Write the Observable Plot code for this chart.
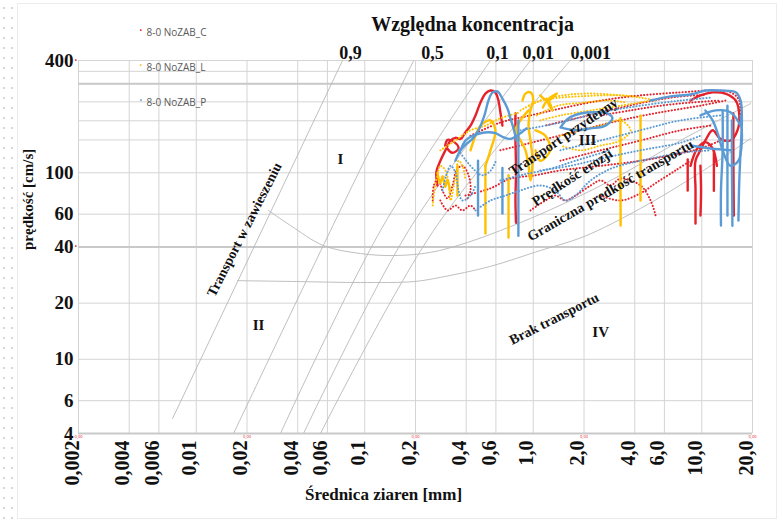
<!DOCTYPE html>
<html>
<head>
<meta charset="utf-8">
<script src="https://cdn.jsdelivr.net/npm/d3@7"></script>
<script src="https://cdn.jsdelivr.net/npm/@observablehq/plot@0.6"></script>
<style>
  html, body { margin: 0; padding: 0; background: #fff; }
  #wrap { position: relative; width: 783px; height: 520px; overflow: hidden; background: #fff; }
  #strip { position: absolute; left: 0; top: 0; width: 16px; height: 520px;
    background-image: radial-gradient(circle, #d8d8d8 1px, transparent 1.6px);
    background-size: 8px 10px; background-position: 0 3px; }
  #frame { position: absolute; left: 17px; top: 3px; width: 758px; height: 514px; border: 1px solid #ececec; }
  #chart { position: absolute; left: 0; top: 0; }
</style>
</head>
<body>
<div id="wrap"><div id="strip"></div><div id="frame"></div><div id="chart"></div></div>
<script>
// ---------- axes ----------
const xTicks = [0.002,0.004,0.006,0.01,0.02,0.04,0.06,0.1,0.2,0.4,0.6,1,2,4,6,10,20];
const xTickLabels = ["0,002","0,004","0,006","0,01","0,02","0,04","0,06","0,1","0,2","0,4","0,6","1,0","2,0","4,0","6,0","10,0","20,0"];
const yTicks = [4,6,10,20,40,60,100,400];
const yTickLabels = ["4","6","10","20","40","60","100","400"];
const yGridExtra = [150,190,240,300,350];
const redTickMarks = [0.002,0.02,0.2,2,20];

// ---------- series ----------
const seriesNames = ["8-0 NoZAB_C","8-0 NoZAB_L","8-0 NoZAB_P"];
const seriesColors = ["#e5222b","#ffc000","#5b9bd5"];

// ---------- relative concentration lines [d mm, v cm/s] ----------
const concLabels = ["0,9","0,5","0,1","0,01","0,001"];
const concLabelX = [0.0822,0.252,0.613,1.07,2.19];
const concLines = [
  [[0.00723,4.81],[0.0738,400]],
  [[0.01664,4],[0.0626,49],[0.195,400]],
  [[0.0316,4],[0.124,49],[0.557,400]],
  [[0.0433,4],[0.182,49],[0.962,400]],
  [[0.0546,4],[0.256,49],[1.66,400]]
];
const erosionCurve = [[0.0268,62.8],[0.0362,52.2],[0.0569,40.7],[0.0944,36.9],[0.148,36.0],[0.245,37.4],[0.407,42.3],[0.638,49],[0.962,56.9],[1.66,71],[3.29,97],[7.48,149],[19.5,235]];
const transportCurve = [[0.01756,26.4],[0.0415,26.1],[0.0944,25.8],[0.195,26.1],[0.281,27.5],[0.557,31.5],[1.10,38.3],[2.0,45.5],[4.33,64.4],[9.82,100.4],[19.5,152.7]];

// ---------- measured trajectories [d mm, v cm/s] ----------
const redSolid = [
  [[0.270,85.5],[0.266,101],[0.281,116],[0.301,132],[0.323,149],[0.345,154],[0.370,152],[0.396,165],[0.424,179],[0.454,203],[0.486,238],[0.520,266],[0.557,276],[0.596,269],[0.621,244],[0.638,211],[0.656,179]],
  [[0.784,208],[0.784,149],[0.79,103],[0.784,71],[0.79,54]],
  [[8.57,244],[9.82,260],[11.6,270],[13.8,266],[15.9,244],[16.7,203],[16.3,169],[14.8,149],[12.9,152],[11.6,169],[10.5,149],[9.82,132],[9.18,116],[9.18,80.4],[9.18,53.5]],
  [[8.25,118],[8.25,80.4]],
  [[15.4,208],[15.4,120],[15.5,59]],
  [[8.57,109],[9.4,135],[10.5,146],[11.6,135],[12.3,109]],
  [[9.82,109],[9.9,80],[9.82,59]],
  [[11.8,132],[11.8,80]],
  [[0.30,140],[0.33,128],[0.36,135],[0.34,146],[0.31,150],[0.30,140]]
];
const redDotted = [
  [[0.253,71],[0.257,85.5],[0.273,93],[0.289,80.4],[0.31,72.8],[0.332,85.5],[0.350,103],[0.380,109],[0.413,97],[0.424,80.4],[0.401,71]],
  [[0.424,158],[0.638,186],[0.962,203],[1.45,221],[2.51,244],[4.33,260],[7.48,270],[11.3,276],[14.8,270],[16.7,244],[16.7,191]],
  [[0.638,132],[1.10,149],[1.91,169],[3.29,191],[5.69,211],[9.82,229],[13.8,244]],
  [[0.396,75.5],[0.557,82.5],[0.732,93],[1.03,97],[1.45,103],[2.51,109],[4.33,116],[6.52,124],[9.82,135],[12.9,149]],
  [[0.962,62.8],[1.18,71],[1.35,75.5],[1.55,71],[1.78,75.5],[2.19,85.5],[2.51,91],[2.87,85.5],[3.29,93],[4.33,85.5],[4.97,71],[5.32,59]],
  [[2.51,203],[3.78,216],[5.69,229],[8.57,238],[12.9,244]],
  [[1.45,116],[2.51,132],[4.33,149],[7.48,169],[11.3,179]],
  [[2.51,75.5],[3.29,71],[4.33,77.7],[5.32,88],[6.99,103],[8.57,116]],
  [[0.281,71],[0.31,62.8],[0.345,66.8],[0.38,62.8],[0.424,66.8],[0.454,62.8]],
  [[1.2,180],[1.8,196],[2.8,216],[4.5,238],[7.0,255],[10.5,262]]
];
const yellowSolid = [
  [[0.52,109],[0.52,71],[0.52,47.3]],
  [[0.713,97],[0.713,66.8],[0.713,45]],
  [[0.863,244],[0.899,266],[0.962,270],[1.0,244],[0.962,216],[0.937,179],[0.962,149],[0.99,116],[0.962,91],[0.937,109],[0.899,132],[0.84,149],[0.784,169],[0.84,191],[0.937,216]],
  [[1.03,169],[1.18,158],[1.26,132],[1.10,116],[1.03,132]],
  [[1.10,260],[1.22,244],[1.38,266],[1.22,244],[1.30,216],[1.22,244],[1.14,224]],
  [[3.29,196],[3.29,103],[3.3,52.2]],
  [[4.33,203],[4.33,116],[4.33,71]],
  [[0.355,109],[0.355,75.5]],
  [[0.424,132],[0.454,158],[0.486,179],[0.557,191],[0.596,169],[0.557,132],[0.52,109]],
  [[0.27,100],[0.28,88],[0.29,96],[0.30,84],[0.31,92],[0.32,80]]
];
const yellowDotted = [
  [[0.253,66.8],[0.259,80.4],[0.270,97],[0.281,109],[0.301,103],[0.316,85.5],[0.323,71],[0.338,85.5],[0.35,103],[0.36,116],[0.38,109],[0.396,91]],
  [[0.84,216],[1.10,244],[1.45,253],[1.91,257],[2.51,260],[3.29,260],[4.33,253],[5.32,244]],
  [[1.45,158],[1.91,169],[2.51,179],[3.29,191],[3.78,169],[3.29,149],[2.51,140],[1.91,132],[1.45,140]],
  [[0.281,132],[0.345,149],[0.424,169],[0.52,179],[0.638,196],[0.84,211]],
  [[1.10,191],[1.45,203],[2.19,216],[3.29,229],[4.97,244]],
  [[0.94,229],[1.2,250],[1.6,262],[2.2,266],[3.0,262],[3.9,257]],
  [[1.05,203],[1.4,229],[2.0,238],[2.8,244],[3.6,238]]
];
const blueSolid = [
  [[0.345,116],[0.370,132],[0.401,143],[0.436,152],[0.473,169],[0.513,203],[0.542,244],[0.572,269],[0.612,273],[0.656,250],[0.703,221],[0.732,196],[0.763,173],[0.795,149]],
  [[0.370,132],[0.396,149],[0.436,158],[0.486,163],[0.542,165],[0.596,163],[0.656,156],[0.732,152],[0.816,160],[0.911,173]],
  [[0.816,191],[0.816,132],[0.816,91],[0.816,62.8],[0.816,46]],
  [[0.656,106],[0.656,60.5]],
  [[1.45,175],[1.62,196],[1.91,208],[2.34,211],[2.75,208],[2.95,196],[2.68,179],[2.19,173],[1.78,169],[1.45,175]],
  [[4.97,244],[6.52,257],[8.57,263],[10.5,276],[12.9,276],[15.9,270],[17.0,244],[17.3,191],[17.0,132],[16.7,91],[16.5,55.5]],
  [[13.3,216],[13.3,132],[13.0,80.4],[13.0,52.2]],
  [[14.2,229],[14.2,120],[14.2,59]],
  [[9.82,203],[12.1,216],[14.8,211],[17.0,179]],
  [[8.57,140],[11.3,135],[14.8,132]],
  [[10.5,216],[11.6,191],[12.5,160],[13.3,132],[14.8,109],[16.5,116],[17.3,149],[17.0,203]],
  [[15.1,191],[15.1,110],[15.2,52]],
  [[0.47,116],[0.47,85],[0.47,59]]
];
const blueDotted = [
  [[0.289,80.4],[0.305,97],[0.323,109],[0.345,100.6],[0.36,80.4],[0.38,71],[0.424,75.5],[0.454,85.5]],
  [[0.454,62.8],[0.557,71],[0.684,75.5],[0.84,80.4],[1.10,85.5],[1.35,80.4],[1.55,71],[1.78,75.5],[2.19,91],[2.87,105],[3.78,113],[4.97,119],[7.48,128],[11.3,132]],
  [[0.84,169],[1.45,186],[2.51,211],[4.33,229],[7.48,244],[11.3,253]],
  [[1.45,132],[2.51,149],[4.33,169],[7.48,191],[12.9,203]],
  [[1.10,103],[1.66,109],[2.51,119],[4.33,132],[7.48,145],[9.82,158]],
  [[0.638,91],[0.84,97],[1.26,105],[1.78,116],[2.87,132]],
  [[0.36,132],[0.40,116],[0.45,103],[0.50,97],[0.56,103],[0.60,116]]
];

// ---------- annotations [text, d, v] ----------
const regionLabels = [["I",0.0718,119],["II",0.0234,15.2],["III",2.1,150],["IV",2.51,13.9]];

// ---------- build ----------
const flat = paths => paths.flatMap((p, i) => p.map(([d, v]) => ({i, d, v})));
const serif = "Liberation Serif, Times New Roman, serif";
const bold = {fontFamily: serif, fontWeight: "bold", fill: "#111"};

function seriesMarks(solid, dotted, color) {
  return [
    Plot.line(flat(dotted), {x: "d", y: "v", z: "i", stroke: color, strokeWidth: 2, strokeDasharray: "0.2 3", strokeLinecap: "round", curve: "catmull-rom", clip: true}),
    Plot.line(flat(solid), {x: "d", y: "v", z: "i", stroke: color, strokeWidth: 2.4, curve: "catmull-rom", clip: true})
  ];
}

const chart = Plot.plot({
  width: 783, height: 520,
  marginLeft: 78, marginRight: 31, marginTop: 60, marginBottom: 87,
  style: {background: "transparent", overflow: "visible"},
  x: {type: "log", domain: [0.002, 20], axis: null},
  y: {type: "log", domain: [4, 400], axis: null},
  marks: [
    Plot.ruleX(xTicks, {stroke: "#d4d4d4", strokeWidth: 1}),
    Plot.ruleY(yTicks.concat(yGridExtra), {stroke: "#d4d4d4", strokeWidth: 1}),
    Plot.ruleY([300, 40, 4], {stroke: "#c9c9c9", strokeWidth: 2}),
    Plot.line(flat(concLines), {x: "d", y: "v", z: "i", stroke: "#b8b8b8", strokeWidth: 0.9, curve: "catmull-rom", clip: true}),
    Plot.line(erosionCurve, {x: d => d[0], y: d => d[1], stroke: "#b8b8b8", strokeWidth: 0.9, curve: "catmull-rom", clip: true}),
    Plot.line(transportCurve, {x: d => d[0], y: d => d[1], stroke: "#b8b8b8", strokeWidth: 0.9, curve: "catmull-rom", clip: true}),
    ...seriesMarks(redSolid, redDotted, seriesColors[0]),
    ...seriesMarks(yellowSolid, yellowDotted, seriesColors[1]),
    ...seriesMarks(blueSolid, blueDotted, seriesColors[2]),
    // zone labels
    Plot.text(["Transport w zawieszeniu"], {x: () => 0.0193, y: () => 49.6, rotate: -63, fontSize: 14, ...bold}),
    Plot.text(["Transport przydenny"], {x: () => 1.51, y: () => 156, rotate: -34, fontSize: 14, ...bold}),
    Plot.text(["Prędkość erozji"], {x: () => 1.70, y: () => 94.4, rotate: -33, fontSize: 14, ...bold}),
    Plot.text(["Graniczna prędkość transportu"], {x: () => 2.87, y: () => 80.5, rotate: -30, fontSize: 14, ...bold}),
    Plot.text(["Brak transportu"], {x: () => 1.33, y: () => 16.5, rotate: -27, fontSize: 14, ...bold}),
    Plot.text(regionLabels, {x: d => d[1], y: d => d[2], text: d => d[0], fontSize: 15, ...bold}),
    // tick labels
    Plot.text(yTicks, {y: d => d, text: (d, i) => yTickLabels[i], frameAnchor: "left", textAnchor: "end", dx: -5, fontSize: 19, ...bold}),
    Plot.text([400, 40], {y: d => d, text: () => "•", frameAnchor: "left", dx: -4, fill: "#e03030", fontSize: 7}),
    Plot.text(xTicks, {x: d => d, text: (d, i) => xTickLabels[i], frameAnchor: "bottom", rotate: -90, textAnchor: "end", dy: 7, fontSize: 20, ...bold}),
    Plot.text(redTickMarks, {x: d => d, text: () => "0,00", frameAnchor: "bottom", dy: 4, fontSize: 4, fill: "#e03030"}),
    // axis titles
    Plot.text(["prędkość [cm/s]"], {frameAnchor: "left", dx: -50, dy: 3, rotate: -90, fontSize: 15, ...bold}),
    Plot.text(["Średnica ziaren [mm]"], {frameAnchor: "bottom", dx: -32, dy: 66, fontSize: 17, ...bold}),
    Plot.text(["Względna koncentracja"], {frameAnchor: "top", dx: 57, dy: -44, fontSize: 20, ...bold}),
    Plot.text(concLabels, {x: (d, i) => concLabelX[i], text: d => d, frameAnchor: "top", dy: -14, fontSize: 18, ...bold}),
    // legend
    ...seriesNames.flatMap((name, i) => [
      Plot.text([name], {frameAnchor: "top-left", dx: 61, dy: -32 + 35 * i, text: () => "•", fill: seriesColors[i], fontSize: 7}),
      Plot.text([name], {frameAnchor: "top-left", dx: 68, dy: -32 + 35 * i, text: d => d, textAnchor: "start", fill: "#595959", fontSize: 10, fontFamily: "Open Sans, sans-serif"})
    ])
  ]
});
document.getElementById("chart").appendChild(chart);
</script>
</body>
</html>
